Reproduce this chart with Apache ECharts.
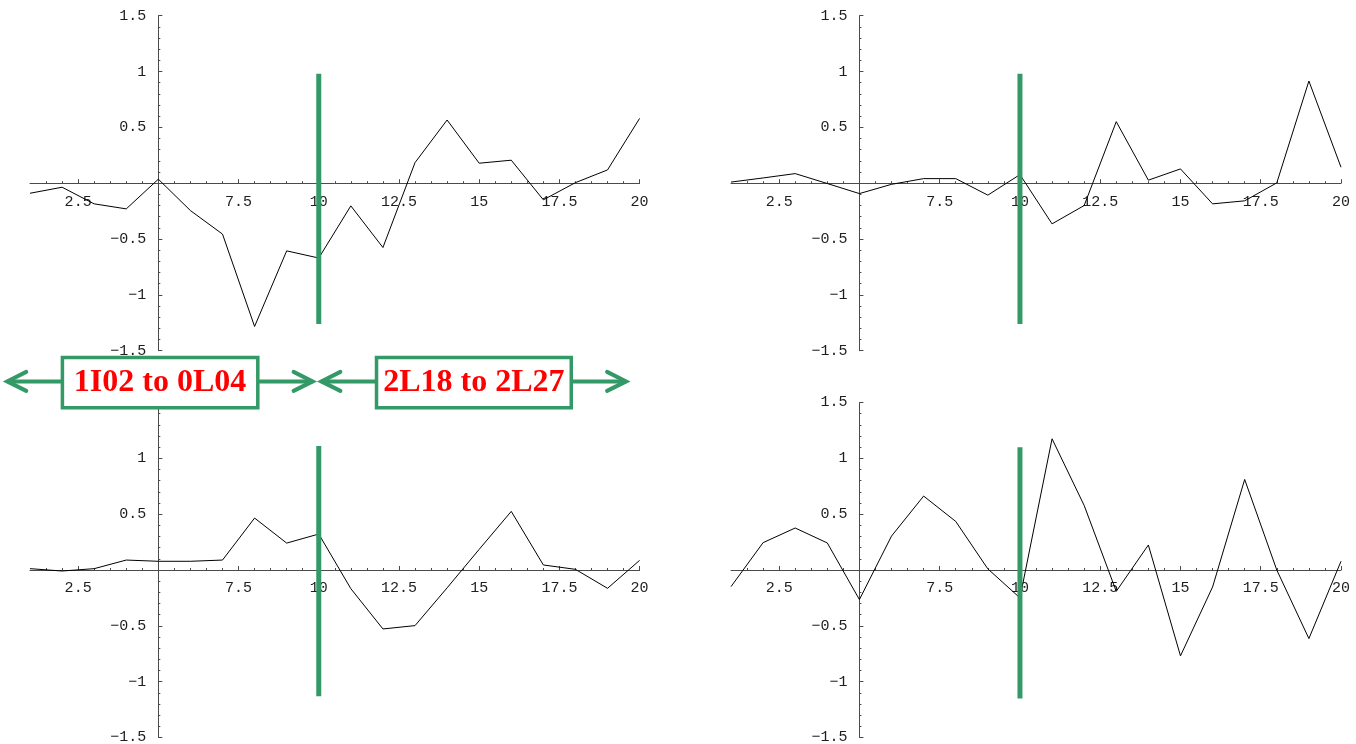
<!DOCTYPE html>
<html><head><meta charset="utf-8">
<script src="https://cdn.jsdelivr.net/npm/echarts@6/dist/echarts.min.js"></script>
<style>html,body{margin:0;padding:0;background:#fff}#c{width:1356px;height:744px}</style>
</head><body><div id="c"></div>
<script>
// ---------------- data ----------------
const xValues = [1, 2, 3, 4, 5, 6, 7, 8, 9, 10, 11, 12, 13, 14, 15, 16, 17, 18, 19, 20];
const topLeftValues = [-0.09, -0.036, -0.185, -0.23, 0.036, -0.245, -0.456, -1.283, -0.606, -0.67, -0.203, -0.576, 0.184, 0.566, 0.179, 0.206, -0.149, 0.005, 0.119, 0.58];
const topRightValues = [0.01, 0.047, 0.086, -0.003, -0.093, -0.01, 0.041, 0.041, -0.107, 0.077, -0.364, -0.2, 0.551, 0.027, 0.128, -0.185, -0.158, 0.003, 0.915, 0.143];
const bottomLeftValues = [0.012, -0.009, 0.012, 0.089, 0.078, 0.078, 0.089, 0.465, 0.241, 0.322, -0.167, -0.528, -0.498, -0.16, 0.185, 0.525, 0.045, 0.006, -0.164, 0.086];
const bottomRightValues = [-0.149, 0.245, 0.376, 0.242, -0.265, 0.304, 0.662, 0.435, 0.01, -0.25, 1.175, 0.578, -0.191, 0.224, -0.769, -0.152, 0.811, 0.0, -0.614, 0.078];
const xMajorTicks = [2.5, 5, 7.5, 10, 12.5, 15, 17.5, 20];
const xTickLabels = [2.5, 7.5, 10, 12.5, 15, 17.5, 20];
const xMinorTicks = [1.5, 2, 3, 3.5, 4, 4.5, 5.5, 6, 6.5, 7, 8, 8.5, 9, 9.5, 10.5, 11, 11.5, 12, 13, 13.5, 14, 14.5, 15.5, 16, 16.5, 17, 18, 18.5, 19, 19.5];
const yTickLabels = [-1.5, -1, -0.5, 0.5, 1, 1.5];
const markerX = 10;
const markerTop = [0.98, 0.98, 1.11, 1.10];
const markerBottom = [-1.26, -1.26, -1.13, -1.15];
const rangeLabels = ['1I02 to 0L04', '2L18 to 2L27'];

// ---------------- layout / style ----------------
const panels = [topLeftValues, topRightValues, bottomLeftValues, bottomRightValues];
const boxes = [
  {left: 30, top: 15.7, width: 609.6, height: 335},
  {left: 731, top: 15.7, width: 610, height: 335},
  {left: 30, top: 402.5, width: 609.6, height: 335},
  {left: 731, top: 402.5, width: 610, height: 335}
];
const Y_MIN = -1.5, Y_MAX = 1.5;
const GREEN = '#339966';
const AX = '#4a4a4a';
const TXT = '#1e1e1e';
const FONT = 'Liberation Mono';
function fmt(v) {
  const s = String(Math.round(v * 100) / 100);
  return s.replace('-', '\u2212');
}

const grids = [], xAxes = [], yAxes = [], series = [];
boxes.forEach((g, i) => {
  const unit = g.width / 19;
  // distance from grid bottom up to the y=0 line (x labels are laid out from the grid edge)
  const zeroLift = g.height * (0 - Y_MIN) / (Y_MAX - Y_MIN);
  grids.push(Object.assign({outerBoundsMode: 'none', containLabel: false}, g));
  grids.push(Object.assign({outerBoundsMode: 'none', containLabel: false}, g));
  xAxes.push({
    gridIndex: 2 * i, type: 'value', min: 1, max: 20, position: 'bottom',
    axisLine: {onZero: true, lineStyle: {color: AX, width: 1}},
    axisTick: {inside: true, length: 4, customValues: xMajorTicks, lineStyle: {color: AX}},
    axisLabel: {customValues: xTickLabels, formatter: fmt, margin: 11 - zeroLift, fontFamily: FONT, fontSize: 15, color: TXT},
    splitLine: {show: false}
  });
  xAxes.push({
    gridIndex: 2 * i + 1, type: 'value', min: 1, max: 20, position: 'bottom',
    axisLine: {show: false, onZero: true},
    axisTick: {inside: true, length: 2, customValues: xMinorTicks, lineStyle: {color: AX}},
    axisLabel: {show: false},
    splitLine: {show: false}
  });
  yAxes.push({
    gridIndex: 2 * i, type: 'value', min: Y_MIN, max: Y_MAX, interval: 0.5, position: 'left',
    offset: -4 * unit,
    axisLine: {show: true, onZero: false, lineStyle: {color: AX, width: 1}},
    axisTick: {inside: true, length: 4, lineStyle: {color: AX}},
    minorTick: {show: true, splitNumber: 5, length: 2, lineStyle: {color: AX}},
    axisLabel: {customValues: yTickLabels, formatter: fmt, margin: 12, fontFamily: FONT, fontSize: 15, color: TXT},
    splitLine: {show: false}
  });
  yAxes.push({
    gridIndex: 2 * i + 1, type: 'value', min: Y_MIN, max: Y_MAX, interval: 0.5, position: 'left',
    axisLine: {show: false, onZero: false}, axisTick: {show: false}, axisLabel: {show: false},
    splitLine: {show: false}
  });
  series.push({
    type: 'line', xAxisIndex: 2 * i, yAxisIndex: 2 * i, symbol: 'none', silent: true,
    data: xValues.map((x, k) => [x, panels[i][k]]),
    lineStyle: {color: '#000', width: 1}, z: 3, animation: false
  });
  series.push({
    type: 'line', xAxisIndex: 2 * i, yAxisIndex: 2 * i, symbol: 'none', silent: true,
    data: [[markerX, markerTop[i]], [markerX, markerBottom[i]]],
    lineStyle: {color: GREEN, width: 5, cap: 'butt'}, z: 5, animation: false
  });
});

const chart = echarts.init(document.getElementById('c'), null, {renderer: 'canvas'});
chart.setOption({
  animation: false,
  backgroundColor: '#fff',
  grid: grids, xAxis: xAxes, yAxis: yAxes, series: series
});

// annotation row (range arrows + labelled boxes), placed in top-left panel coordinates
const annY = -1.775;
const spans = [
  {tipL: 0.26, boxL: 2.01, boxR: 8.10, tipR: 9.84, text: rangeLabels[0]},
  {tipL: 10.05, boxL: 11.80, boxR: 17.87, tipR: 19.61, text: rangeLabels[1]}
];
const P = (x, y) => chart.convertToPixel({seriesIndex: 0}, [x, y]);
const els = [];
const lineStyle = {stroke: GREEN, lineWidth: 4, lineCap: 'butt', lineJoin: 'miter', fill: null};
spans.forEach(s => {
  const a = P(s.tipL, annY), b = P(s.boxL, annY), c = P(s.boxR, annY), d = P(s.tipR, annY);
  const top = P(0, -1.56)[1], bot = P(0, -2.01)[1];
  els.push({type: 'line', z: 100, shape: {x1: a[0] + 1, y1: a[1], x2: b[0], y2: b[1]}, style: lineStyle});
  els.push({type: 'polyline', z: 100, shape: {points: [[a[0] + 20, a[1] - 9.5], [a[0] + 1, a[1]], [a[0] + 20, a[1] + 9.5]]}, style: Object.assign({}, lineStyle, {lineCap: 'round'})});
  els.push({type: 'line', z: 100, shape: {x1: c[0], y1: c[1], x2: d[0] - 1, y2: d[1]}, style: lineStyle});
  els.push({type: 'polyline', z: 100, shape: {points: [[d[0] - 20, d[1] - 9.5], [d[0] - 1, d[1]], [d[0] - 20, d[1] + 9.5]]}, style: Object.assign({}, lineStyle, {lineCap: 'round'})});
  els.push({type: 'rect', z: 101, shape: {x: b[0], y: top, width: c[0] - b[0], height: bot - top},
    style: {fill: '#fff', stroke: GREEN, lineWidth: 3.5}});
  els.push({type: 'text', z: 102, x: (b[0] + c[0]) / 2, y: (top + bot) / 2,
    style: {text: s.text, fill: '#ff0000', font: 'bold 32px "Liberation Serif", "Times New Roman", serif', align: 'center', verticalAlign: 'middle'}});
});
chart.setOption({graphic: {elements: els}});
</script></body></html>
